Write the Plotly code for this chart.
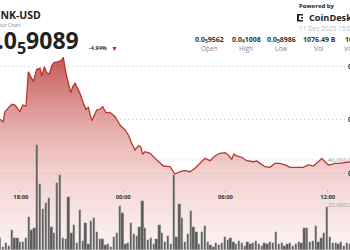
import plotly.graph_objects as go

# ---------------- data ----------------
# price line: time in hours from 10 Dec 00:00 (24 = 11 Dec 00:00), price in USD
line_hour = [16.78, 16.97, 17.07, 17.47, 17.66, 17.95, 18.11, 18.31, 18.44, 18.73,
             18.93, 19.13, 19.23, 19.38, 19.52, 19.67, 19.81, 19.95, 20.20, 20.40,
             20.49, 20.65, 20.93, 21.04, 21.18, 21.47, 21.67, 21.82, 21.96, 22.16,
             22.45, 22.65, 22.80, 23.00, 23.23, 23.53, 23.82, 24.11, 24.31, 24.50,
             24.70, 24.89, 25.03, 25.15, 25.28, 25.58, 25.87, 26.16, 26.36, 26.75,
             27.04, 27.34, 27.63, 27.92, 28.22, 28.41, 28.80, 29.10, 29.39, 29.68,
             29.98, 30.17, 30.37, 30.50, 30.66, 30.96, 31.25, 31.64, 31.84, 32.03,
             32.32, 32.62, 32.91, 33.20, 33.50, 33.79, 34.08, 34.57, 34.86, 35.16,
             35.45, 35.65, 35.84, 36.04, 36.24, 36.43, 36.72, 37.02, 37.31, 37.89]
line_price = [9.505e-6, 9.482e-6, 9.576e-6, 9.645e-6, 9.638e-6, 9.576e-6, 9.638e-6, 9.629e-6, 9.950e-6, 9.857e-6,
              9.972e-6, 9.981e-6, 9.909e-6, 9.996e-6, 9.940e-6, 9.928e-6, 10.003e-6, 10.034e-6, 10.043e-6, 10.059e-6,
              10.084e-6, 9.935e-6, 9.753e-6, 9.809e-6, 9.841e-6, 9.748e-6, 9.654e-6, 9.598e-6, 9.617e-6, 9.492e-6,
              9.592e-6, 9.601e-6, 9.622e-6, 9.566e-6, 9.570e-6, 9.529e-6, 9.451e-6, 9.405e-6, 9.358e-6, 9.280e-6,
              9.218e-6, 9.258e-6, 9.249e-6, 9.178e-6, 9.202e-6, 9.187e-6, 9.140e-6, 9.093e-6, 9.068e-6, 9.062e-6,
              8.993e-6, 9.015e-6, 9.024e-6, 9.015e-6, 9.047e-6, 9.078e-6, 9.140e-6, 9.118e-6, 9.162e-6, 9.187e-6,
              9.193e-6, 9.171e-6, 9.131e-6, 9.180e-6, 9.162e-6, 9.150e-6, 9.118e-6, 9.108e-6, 9.115e-6, 9.093e-6,
              9.062e-6, 9.056e-6, 9.093e-6, 9.093e-6, 9.078e-6, 9.056e-6, 9.056e-6, 9.056e-6, 9.078e-6, 9.068e-6,
              9.108e-6, 9.140e-6, 9.108e-6, 9.078e-6, 9.084e-6, 9.093e-6, 9.093e-6, 9.103e-6, 9.108e-6, 9.096e-6]

# 10-minute volume bars starting 10 Dec 16:48
bar_start_hour = 16.8
bar_step_hour = 1 / 6
volumes = [5.3e6, 1.5e6, 3.1e6, 1.8e6, 8.9e6, 5.3e6, 5.3e6, 3.7e6, 3.7e6, 5.3e6,
           14.8e6, 8.9e6, 9.6e6, 46.7e6, 29.2e6, 18.2e6, 20.9e6, 23.2e6, 10.4e6, 7.4e6,
           29.6e6, 33.3e6, 5.3e6, 4.8e6, 23.4e6, 7.4e6, 11.1e6, 3.0e6, 17.8e6, 4.1e6,
           11.9e6, 2.7e6, 12.9e6, 14.1e6, 8.1e6, 4.8e6, 4.8e6, 2.2e6, 2.7e6, 1.2e6,
           5.6e6, 7.6e6, 19.6e6, 16.3e6, 2.7e6, 3.0e6, 12.1e6, 7.1e6, 6.2e6, 10.1e6,
           21.9e6, 9.6e6, 4.4e6, 5.2e6, 2.7e6, 4.8e6, 11.1e6, 7.4e6, 3.7e6, 6.2e6,
           2.7e6, 33.3e6, 5.6e6, 20.4e6, 14.1e6, 3.7e6, 7.1e6, 17.5e6, 10.4e6, 8.1e6,
           2.7e6, 8.1e6, 10.7e6, 3.7e6, 2.2e6, 1.5e6, 3.0e6, 2.2e6, 3.2e6, 5.6e6,
           4.4e6, 5.2e6, 3.5e6, 2.5e6, 4.0e6, 3.0e6, 2.0e6, 3.5e6, 2.5e6, 3.0e6,
           4.0e6, 2.5e6, 2.0e6, 3.0e6, 2.5e6, 3.5e6, 3.0e6, 8.1e6, 2.5e6, 3.0e6,
           2.0e6, 2.5e6, 3.0e6, 2.0e6, 2.5e6, 3.5e6, 3.0e6, 9.6e6, 9.6e6, 3.6e6,
           4.0e6, 10.7e6, 3.6e6, 5.3e6, 7.6e6, 19.2e6, 5.8e6, 3.1e6, 3.0e6, 2.5e6,
           3.5e6, 2.0e6, 3.0e6, 2.5e6]
bar_hour = [bar_start_hour + i * bar_step_hour for i in range(len(volumes))]

time_tickvals = [18, 24, 30, 36]
time_ticktext = ["18:00", "00:00", "06:00", "12:00"]
price_tickvals = [9.0e-6, 9.5e-6, 1.0e-5]
price_ticktext = ["0.0<sub>5</sub>9000", "0.0<sub>5</sub>9500", "0.0<sub>4</sub>1000"]
vol_tickvals = [20e6, 40e6]
vol_ticktext = ["20,000,000", "40,000,000"]

stat_values = ["0.0<sub>5</sub>9562", "0.0<sub>4</sub>1008", "0.0<sub>5</sub>8986", "1076.49 B", "10.01 M"]
stat_labels = ["Open", "High", "Low", "Vol", "Vol (USD)"]
stat_centers = [209.5, 246.0, 281.3, 319.0, 358.0]

# ---------------- figure ----------------
W, H = 350, 250
x_range = [16.78, 37.308]
price_range = [8.283e-6, 1.062e-5]
vol_range = [0, 111.1e6]

fig = go.Figure()
fig.add_trace(go.Scatter(
    x=line_hour, y=line_price, mode="lines",
    line=dict(color="#b8372f", width=1.3),
    fill="tozeroy",
    fillgradient=dict(
        type="vertical", start=price_range[0], stop=1.0084e-5,
        colorscale=[[0.0, "rgba(215,95,90,0.07)"],
                    [0.415, "rgba(205,80,75,0.27)"],
                    [0.675, "rgba(200,75,70,0.50)"],
                    [1.0, "rgba(185,60,55,0.85)"]]),
    hoverinfo="skip", showlegend=False))
fig.add_trace(go.Bar(
    x=bar_hour, y=volumes, yaxis="y2", width=0.135,
    marker=dict(color="#5a5a5a", line=dict(color="rgba(200,200,200,0.8)", width=0.4)),
    hoverinfo="skip", showlegend=False))

def px(x):
    return x / W

def py(y):
    return 1 - y / H

ann = []
ann.append(dict(text="<b>BONK-USD</b>", x=px(43), y=py(15), font=dict(size=10.5, color="#222")))
ann.append(dict(text="24 Hour Chart", x=px(23), y=py(25.5), font=dict(size=5, color="#888")))
ann.append(dict(text="<b>0.0<sub>5</sub>9089</b>", x=px(81), y=py(41), font=dict(size=23, color="#222")))
for a in ann:
    a["xanchor"] = "right"
ann.append(dict(text="<b>-4.94%</b>", x=px(87), y=py(48.3), xanchor="left", font=dict(size=5.5, color="#333")))
ann.append(dict(text="▼", x=px(109.5), y=py(48.3), xanchor="left", font=dict(size=7, color="#c62828")))
ann.append(dict(text="<b>Powered by</b>", x=px(296.5), y=py(6.2), xanchor="left", font=dict(size=6, color="#222")))
ann.append(dict(text="<b>CoinDesk Indices</b>", x=px(306.5), y=py(17.7), xanchor="left", font=dict(size=9.2, color="#222")))
ann.append(dict(text="11 Dec 2025 15:08", x=px(296.5), y=py(28.3), xanchor="left", font=dict(size=6.5, color="#bbb")))
for v, l, c in zip(stat_values, stat_labels, stat_centers):
    ann.append(dict(text="<b>" + v + "</b>", x=px(c), y=py(39.3), xanchor="center", font=dict(size=7, color="#333")))
    ann.append(dict(text=l, x=px(c), y=py(48.5), xanchor="center", font=dict(size=6.5, color="#888")))
for a in ann:
    a.update(xref="paper", yref="paper")
# axis value labels, placed at their axis values
for v, t in zip(price_tickvals, price_ticktext):
    ann.append(dict(text="<b>" + t + "</b>", x=px(345.5), y=v, xref="paper", yref="y", xanchor="left",
                    font=dict(size=7, color="#333")))
for v, t in zip(vol_tickvals, vol_ticktext):
    ann.append(dict(text=t, x=px(325.5), y=v, xref="paper", yref="y2", xanchor="left",
                    font=dict(size=6, color="#999")))
for a in ann:
    a.update(showarrow=False, yanchor="middle")

shapes = [
    dict(type="line", xref="paper", yref="y2", x0=0, x1=1, y0=40e6, y1=40e6,
         line=dict(color="#c8c8c8", width=1, dash="1px,3px"), layer="below"),
    # CoinDesk logo mark
    dict(type="rect", xref="paper", yref="paper", x0=px(297), x1=px(299), y0=py(21.5), y1=py(14),
         fillcolor="#222", line=dict(width=0)),
    dict(type="rect", xref="paper", yref="paper", x0=px(299), x1=px(303), y0=py(15.5), y1=py(14),
         fillcolor="#222", line=dict(width=0)),
    dict(type="rect", xref="paper", yref="paper", x0=px(299), x1=px(303), y0=py(21.5), y1=py(20),
         fillcolor="#222", line=dict(width=0)),
    dict(type="rect", xref="paper", yref="paper", x0=px(301), x1=px(303), y0=py(18.5), y1=py(17),
         fillcolor="#222", line=dict(width=0)),
]

fig.update_layout(
    width=W, height=H, margin=dict(l=0, r=0, t=0, b=0),
    paper_bgcolor="white", plot_bgcolor="white",
    font=dict(family="Open Sans, sans-serif"),
    showlegend=False, bargap=0,
    annotations=ann, shapes=shapes,
    xaxis=dict(range=x_range, domain=[0, 1], anchor="free", position=0.244,
               tickvals=time_tickvals, ticktext=time_ticktext,
               ticks="outside", ticklen=2, tickcolor="#bbb",
               tickfont=dict(size=5.8, color="#333", weight="bold"),
               showgrid=False, zeroline=False, showline=False, fixedrange=True),
    yaxis=dict(range=price_range, domain=[0, 1], anchor="free", position=1,
               tickvals=price_tickvals, showticklabels=False,
               showgrid=True, gridcolor="#cfcfcf", griddash="1px,3px", gridwidth=1,
               zeroline=False, showline=False, ticks=""),
    yaxis2=dict(range=vol_range, overlaying="y", anchor="free", position=1, side="right",
                showticklabels=False, showgrid=False, zeroline=False, showline=False, ticks=""),
)

fig.write_html("out.html")
